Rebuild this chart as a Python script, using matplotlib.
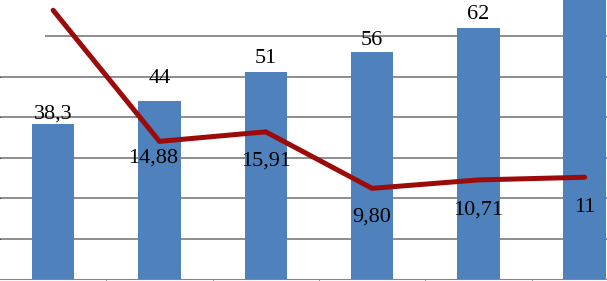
import matplotlib.pyplot as plt
from matplotlib.patches import Rectangle

# bar series (left axis) and line series (right axis)
bar_values = [38.3, 44, 51, 56, 62, 72]
bar_labels = ["38,3", "44", "51", "56", "62", ""]
line_values = [29.05, 14.88, 15.91, 9.80, 10.71, 11]
line_labels = ["", "14,88", "15,91", "9,80", "10,71", "11"]

plt.rcParams['font.family'] = ['Liberation Serif', 'DejaVu Serif']

fig = plt.figure(figsize=(6.07, 2.81), dpi=100)
ax = fig.add_axes([0, 2 / 281, 1, 279 / 281])

x = list(range(len(bar_values)))
ax.bar(x, bar_values, width=0.4, color="#4F81BD", zorder=2)
ax.set_xlim(-0.5, 5.21)
ax.set_ylim(0, 68.9)
ax.set_yticks([10, 20, 30, 40, 50, 60])
ax.set_axisbelow(True)
ax.grid(axis="y", color="#858585", linewidth=1.3)
ax.tick_params(axis="y", left=False, labelleft=False)
ax.set_xticks([])
ax.set_xticks([i + 0.5 for i in range(5)], minor=True)
ax.tick_params(axis="x", which="minor", direction="out", length=3, color="#858585")
for s in ["top", "left", "right"]:
    ax.spines[s].set_visible(False)
ax.spines["bottom"].set_color("#858585")

# hide top-left part of the upper gridline as in the source image
ax.add_patch(Rectangle((0, 0.85), 45 / 607, 0.15, transform=ax.transAxes,
                       facecolor="white", edgecolor="none", zorder=1))

# bar labels (pixel offsets above bar tops)
bar_off = [0, 13, 4, 2, 4, 3]
for i, (v, lab) in enumerate(zip(bar_values, bar_labels)):
    ax.annotate(lab, (i, v), xytext=(0, bar_off[i]), textcoords="offset pixels",
                ha="center", va="bottom", fontsize=16, color="black")

ax2 = ax.twinx()
ax2.set_ylim(0, 30.16)
ax2.plot(x, line_values, color="#9C0A0A", linewidth=3.6, solid_capstyle="round",
         solid_joinstyle="miter", zorder=3)
ax2.axis("off")

line_off = [(0, -29), (-6, -17), (0, -29), (0, -29), (0, -30), (0, -30)]
for i, (v, lab) in enumerate(zip(line_values, line_labels)):
    ax2.annotate(lab, (i, v), xytext=line_off[i], textcoords="offset pixels",
                 ha="center", va="center", fontsize=16, color="black")

fig.savefig("out.png", dpi=100)
